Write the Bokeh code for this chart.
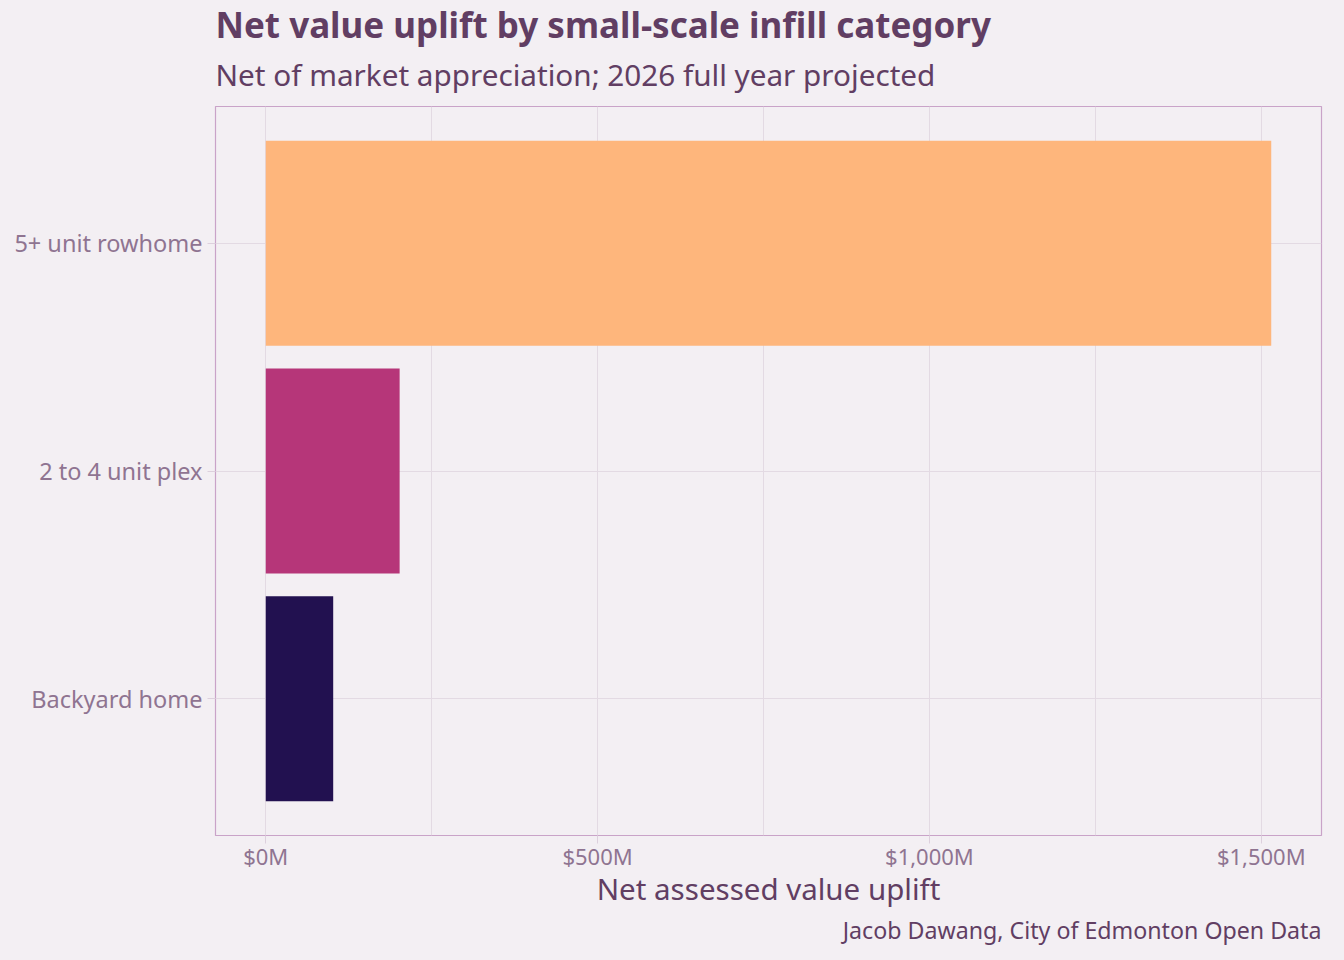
from bokeh.plotting import figure
from bokeh.models import Range1d, FixedTicker, ColumnDataSource, Title
from bokeh.embed import file_html
from bokeh.resources import INLINE

categories = ["Backyard home", "2 to 4 unit plex", "5+ unit rowhome"]
values_m = [101.6, 201.7, 1515.0]
colors = ["#221150", "#B63679", "#FEB67C"]
x_ticks = [0, 500, 1000, 1500]
x_minor = [250, 750, 1250]
x_tick_labels = ["$0M", "$500M", "$1,000M", "$1,500M"]

title_text = "Net value uplift by small-scale infill category"
subtitle_text = "Net of market appreciation; 2026 full year projected"
caption_text = "Jacob Dawang, City of Edmonton Open Data"
x_label = "Net assessed value uplift"

BG = "#F3EFF3"
TITLE_C = "#613E63"
TICK_C = "#8F7491"
GRID_C = "#E3DAE3"
FONT = "Noto Sans"

ypos = [i + 1 for i in range(len(categories))]
src = ColumnDataSource(dict(y=ypos, right=values_m, color=colors, cat=categories))

vmax = max(values_m)
pad = 0.05 * vmax

p = figure(frame_width=1106, frame_height=729, title=None,
           min_border_left=215, min_border_right=7, min_border_top=106, min_border_bottom=0,
           x_range=Range1d(-pad, vmax + pad), y_range=Range1d(0.4, len(categories) + 0.6),
           output_backend="svg", toolbar_location=None)

p.hbar(y="y", left=0, right="right", height=0.9, fill_color="color", line_color=None, source=src)

p.background_fill_color = BG
p.border_fill_color = BG
p.outline_line_color = "#C9A3C8"
p.outline_line_width = 1.2

p.xaxis.ticker = FixedTicker(ticks=x_ticks, minor_ticks=x_minor)
p.xaxis.major_label_overrides = {t: l for t, l in zip(x_ticks, x_tick_labels)}
p.yaxis.ticker = FixedTicker(ticks=ypos)
p.yaxis.major_label_overrides = {y: c for y, c in zip(ypos, categories)}

for ax in (p.xaxis[0], p.yaxis[0]):
    ax.axis_line_color = None
    ax.major_tick_line_color = "#DDD0DD"
    ax.major_tick_out = 8
    ax.major_tick_in = 0
    ax.minor_tick_line_color = None
    ax.major_label_text_font = FONT
    ax.major_label_text_color = TICK_C
p.xaxis.major_label_standoff = -3
p.yaxis.major_label_standoff = 5
p.xaxis.major_label_text_font_size = "22px"
p.yaxis.major_label_text_font_size = "23.5px"

p.xaxis.axis_label = x_label
p.xaxis.axis_label_text_font = FONT
p.xaxis.axis_label_text_font_size = "29.5px"
p.xaxis.axis_label_text_font_style = "normal"
p.xaxis.axis_label_text_color = TITLE_C
p.xaxis.axis_label_standoff = -6

p.xgrid.grid_line_color = GRID_C
p.xgrid.minor_grid_line_color = GRID_C
p.ygrid.grid_line_color = GRID_C
p.xgrid.ticker = FixedTicker(ticks=x_ticks, minor_ticks=x_minor)
p.ygrid.ticker = FixedTicker(ticks=ypos)

p.add_layout(Title(text=subtitle_text, text_font=FONT, text_font_size="29.7px",
                   text_font_style="normal", text_color=TITLE_C, align="left",
                   standoff=24), "above")
p.add_layout(Title(text=title_text, text_font=FONT, text_font_size="35px",
                   text_font_style="bold", text_color=TITLE_C, align="left",
                   standoff=-16), "above")
p.add_layout(Title(text=caption_text, text_font=FONT, text_font_size="23.2px",
                   text_font_style="normal", text_color=TITLE_C, align="right",
                   standoff=1), "below")

style = "<style>html, body { background-color: %s; }</style></head>" % BG
html = file_html(p, INLINE).replace("</head>", style, 1)
open("out.html", "w").write(html)
